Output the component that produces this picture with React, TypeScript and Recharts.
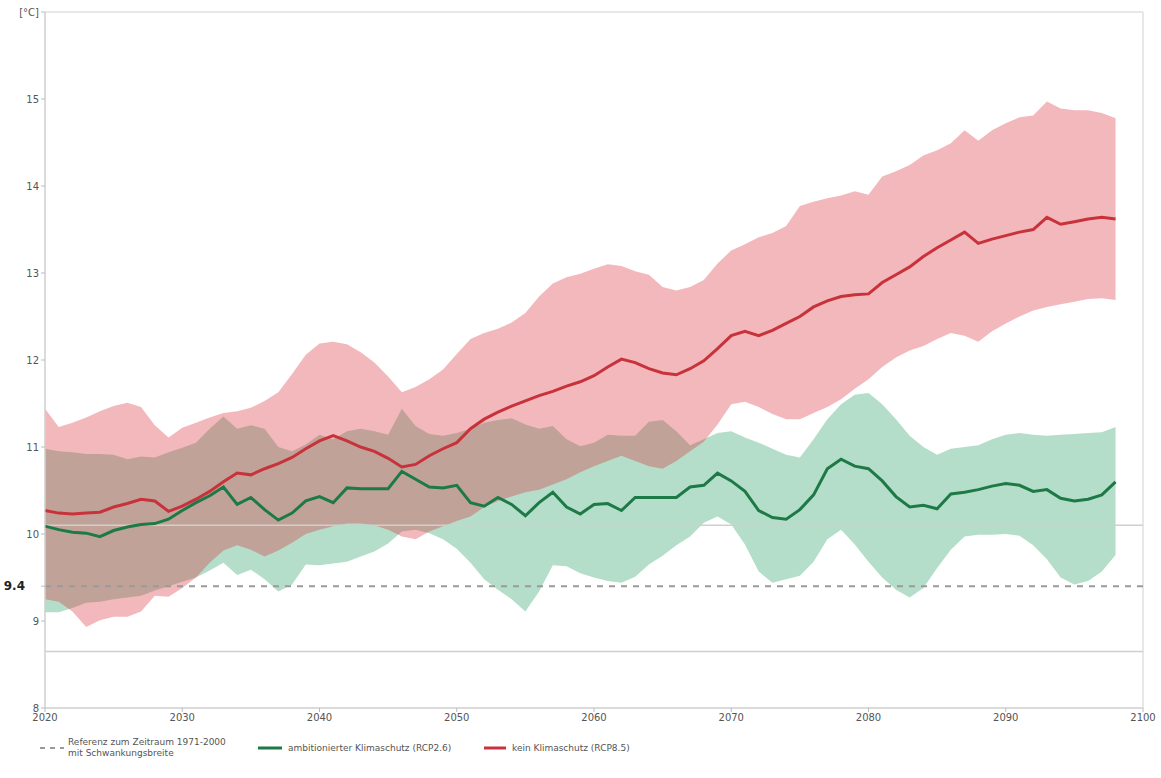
import {
  ComposedChart,
  Area,
  Line,
  XAxis,
  YAxis,
  ReferenceLine,
  ReferenceArea,
  Legend,
} from 'recharts';

const years = [
  2020, 2021, 2022, 2023, 2024, 2025, 2026, 2027, 2028, 2029,
  2030, 2031, 2032, 2033, 2034, 2035, 2036, 2037, 2038, 2039,
  2040, 2041, 2042, 2043, 2044, 2045, 2046, 2047, 2048, 2049,
  2050, 2051, 2052, 2053, 2054, 2055, 2056, 2057, 2058, 2059,
  2060, 2061, 2062, 2063, 2064, 2065, 2066, 2067, 2068, 2069,
  2070, 2071, 2072, 2073, 2074, 2075, 2076, 2077, 2078, 2079,
  2080, 2081, 2082, 2083, 2084, 2085, 2086, 2087, 2088, 2089,
  2090, 2091, 2092, 2093, 2094, 2095, 2096, 2097, 2098,
];

// kein Klimaschutz (RCP8.5)
const redMean = [
  10.27, 10.24, 10.23, 10.24, 10.25, 10.31, 10.35, 10.40, 10.38, 10.26,
  10.32, 10.40, 10.49, 10.60, 10.70, 10.68, 10.75, 10.81, 10.88, 10.98,
  11.07, 11.13, 11.07, 11.00, 10.95, 10.87, 10.77, 10.80, 10.90, 10.98,
  11.05, 11.21, 11.32, 11.40, 11.47, 11.53, 11.59, 11.64, 11.70, 11.75,
  11.82, 11.92, 12.01, 11.97, 11.90, 11.85, 11.83, 11.90, 11.99, 12.13,
  12.28, 12.33, 12.28, 12.34, 12.42, 12.50, 12.61, 12.68, 12.73, 12.75,
  12.76, 12.89, 12.98, 13.07, 13.19, 13.29, 13.38, 13.47, 13.34, 13.39,
  13.43, 13.47, 13.50, 13.64, 13.56, 13.59, 13.62, 13.64, 13.62,
];
const redHi = [
  11.44, 11.23, 11.28, 11.34, 11.41, 11.47, 11.51, 11.46, 11.25, 11.11,
  11.22, 11.28, 11.34, 11.39, 11.41, 11.45, 11.53, 11.63, 11.84, 12.06,
  12.19, 12.21, 12.18, 12.09, 11.97, 11.81, 11.63, 11.69, 11.78, 11.89,
  12.07, 12.24, 12.31, 12.36, 12.43, 12.54, 12.73, 12.88, 12.95, 12.99,
  13.05, 13.10, 13.08, 13.02, 12.98, 12.84, 12.80, 12.84, 12.92, 13.11,
  13.26, 13.33, 13.41, 13.46, 13.54, 13.77, 13.82, 13.86, 13.89, 13.94,
  13.90, 14.11, 14.17, 14.24, 14.35, 14.41, 14.49, 14.64, 14.52, 14.64,
  14.72, 14.79, 14.81, 14.97, 14.89, 14.87, 14.87, 14.84, 14.78,
];
const redLo = [
  9.25, 9.22, 9.11, 8.93, 9.01, 9.05, 9.05, 9.11, 9.29, 9.28,
  9.38, 9.50, 9.67, 9.81, 9.87, 9.82, 9.74, 9.81, 9.90, 10.00,
  10.05, 10.09, 10.12, 10.12, 10.10, 10.05, 9.97, 9.94, 10.03, 10.09,
  10.15, 10.20, 10.31, 10.38, 10.43, 10.48, 10.51, 10.57, 10.63, 10.71,
  10.78, 10.84, 10.90, 10.84, 10.78, 10.75, 10.84, 10.95, 11.06, 11.26,
  11.49, 11.52, 11.46, 11.38, 11.32, 11.32, 11.39, 11.46, 11.55, 11.67,
  11.78, 11.92, 12.03, 12.11, 12.16, 12.24, 12.31, 12.28, 12.21, 12.33,
  12.42, 12.50, 12.57, 12.61, 12.64, 12.67, 12.70, 12.71, 12.69,
];

// ambitionierter Klimaschutz (RCP2.6)
const greenMean = [
  10.09, 10.05, 10.02, 10.01, 9.97, 10.04, 10.08, 10.11, 10.12, 10.17,
  10.27, 10.36, 10.44, 10.54, 10.34, 10.42, 10.28, 10.16, 10.24, 10.38,
  10.43, 10.36, 10.53, 10.52, 10.52, 10.52, 10.72, 10.63, 10.54, 10.53,
  10.56, 10.36, 10.32, 10.42, 10.34, 10.21, 10.36, 10.48, 10.31, 10.23,
  10.34, 10.35, 10.27, 10.42, 10.42, 10.42, 10.42, 10.54, 10.56, 10.70,
  10.61, 10.49, 10.27, 10.19, 10.17, 10.28, 10.45, 10.75, 10.86, 10.78,
  10.75, 10.61, 10.43, 10.31, 10.33, 10.29, 10.46, 10.48, 10.51, 10.55,
  10.58, 10.56, 10.49, 10.51, 10.41, 10.38, 10.40, 10.45, 10.60,
];
const greenHi = [
  10.98, 10.95, 10.94, 10.92, 10.92, 10.91, 10.86, 10.89, 10.88, 10.94,
  10.99, 11.05, 11.21, 11.35, 11.21, 11.25, 11.21, 11.00, 10.95, 11.03,
  11.14, 11.09, 11.18, 11.21, 11.18, 11.14, 11.44, 11.24, 11.15, 11.13,
  11.16, 11.21, 11.28, 11.31, 11.33, 11.26, 11.21, 11.24, 11.09, 11.01,
  11.05, 11.14, 11.13, 11.13, 11.29, 11.31, 11.18, 11.02, 11.09, 11.16,
  11.18, 11.11, 11.05, 10.98, 10.91, 10.88, 11.09, 11.32, 11.49, 11.60,
  11.62, 11.49, 11.32, 11.13, 11.00, 10.91, 10.98, 11.00, 11.02, 11.09,
  11.14, 11.16, 11.14, 11.13, 11.14, 11.15, 11.16, 11.17, 11.23,
];
const greenLo = [
  9.10, 9.10, 9.15, 9.21, 9.22, 9.25, 9.27, 9.29, 9.35, 9.40,
  9.45, 9.50, 9.58, 9.67, 9.53, 9.59, 9.48, 9.34, 9.42, 9.65,
  9.64, 9.66, 9.68, 9.74, 9.80, 9.89, 10.03, 10.05, 10.01, 9.94,
  9.83, 9.67, 9.48, 9.36, 9.25, 9.11, 9.34, 9.64, 9.63, 9.55,
  9.50, 9.46, 9.44, 9.51, 9.65, 9.75, 9.87, 9.97, 10.13, 10.20,
  10.11, 9.88, 9.57, 9.44, 9.48, 9.52, 9.68, 9.94, 10.05, 9.88,
  9.68, 9.50, 9.36, 9.27, 9.38, 9.61, 9.82, 9.97, 9.99, 9.99,
  10.00, 9.98, 9.87, 9.71, 9.50, 9.42, 9.46, 9.57, 9.76,
];

// Referenz 1971-2000 mit Schwankungsbreite
const refMean = 9.4;
const refLo = 8.65;
const refHi = 10.1;

const xTicks = [2020, 2030, 2040, 2050, 2060, 2070, 2080, 2090, 2100];
const yTicks = [8, 9, 9.4, 10, 11, 12, 13, 14, 15, 16];

const RED = '#c8323a';
const GREEN = '#1d7a47';

const data = years.map((year, i) => ({
  year,
  redMean: redMean[i],
  redBand: [redLo[i], redHi[i]],
  greenMean: greenMean[i],
  greenBand: [greenLo[i], greenHi[i]],
}));

function YTick({ x, y, payload }: any) {
  const v = payload.value;
  if (v === 9.4) {
    return (
      <text x={x - 14} y={y} dy={4} textAnchor="end" fontSize={12} fontWeight="bold" fill="#222">
        9.4
      </text>
    );
  }
  return (
    <text x={x} y={y} dy={4} textAnchor="end" fontSize={10} fill="#555">
      {v === 16 ? '[°C]' : v}
    </text>
  );
}

function renderLegend() {
  return (
    <div
      style={{
        display: 'flex',
        alignItems: 'center',
        fontSize: 9,
        color: '#555',
        paddingLeft: 40,
        paddingTop: 4,
        lineHeight: '11px',
      }}
    >
      <svg width={24} height={6} style={{ marginRight: 4 }}>
        <line x1={0} y1={3} x2={24} y2={3} stroke="#9a9a9a" strokeWidth={2} strokeDasharray="5 5" />
      </svg>
      <div style={{ width: 190 }}>
        Referenz zum Zeitraum 1971-2000
        <br />
        mit Schwankungsbreite
      </div>
      <svg width={24} height={6} style={{ marginRight: 6 }}>
        <line x1={0} y1={3} x2={24} y2={3} stroke={GREEN} strokeWidth={3} />
      </svg>
      <div style={{ width: 196 }}>ambitionierter Klimaschutz (RCP2.6)</div>
      <svg width={22} height={6} style={{ marginRight: 6 }}>
        <line x1={0} y1={3} x2={22} y2={3} stroke={RED} strokeWidth={3} />
      </svg>
      <div>kein Klimaschutz (RCP8.5)</div>
    </div>
  );
}

export default function App() {
  return (
    <div
      style={{
        position: 'absolute',
        left: 0,
        top: 0,
        width: 1161,
        height: 778,
        background: '#fff',
        fontFamily: '"DejaVu Sans", sans-serif',
      }}
    >
      <ComposedChart width={1161} height={778} data={data} margin={{ top: 12, right: 18, left: 0, bottom: 0 }}>
        <XAxis
          dataKey="year"
          type="number"
          domain={[2020, 2100]}
          ticks={xTicks}
          tick={{ fontSize: 10, fill: '#555' }}
          axisLine={{ stroke: '#cfcfcf' }}
          tickLine={{ stroke: '#bbb' }}
          tickSize={4}
          height={25}
        />
        <YAxis
          type="number"
          domain={[8, 16]}
          ticks={yTicks}
          tick={<YTick />}
          axisLine={{ stroke: '#cfcfcf' }}
          tickLine={{ stroke: '#bbb' }}
          tickSize={4}
          width={45}
          interval={0}
        />
        <Area
          type="linear"
          dataKey="greenBand"
          fill="#1a9a5c"
          fillOpacity={0.33}
          stroke="none"
          isAnimationActive={false}
        />
        <Area
          type="linear"
          dataKey="redBand"
          fill="#d9343e"
          fillOpacity={0.35}
          stroke="none"
          isAnimationActive={false}
        />
        <ReferenceLine y={refHi} stroke="#cfcfcf" strokeWidth={1.5} />
        <ReferenceLine y={refLo} stroke="#cfcfcf" strokeWidth={1.5} />
        <ReferenceLine y={refMean} stroke="#9a9a9a" strokeWidth={2} strokeDasharray="6 6" />
        <ReferenceArea x1={2020} x2={2100} y1={8} y2={16} fill="none" stroke="#d0d0d0" />
        <Line
          type="linear"
          dataKey="redMean"
          stroke={RED}
          strokeWidth={3}
          dot={false}
          isAnimationActive={false}
        />
        <Line
          type="linear"
          dataKey="greenMean"
          stroke={GREEN}
          strokeWidth={3}
          dot={false}
          isAnimationActive={false}
        />
        <Legend verticalAlign="bottom" align="left" height={45} content={renderLegend} />
      </ComposedChart>
    </div>
  );
}
